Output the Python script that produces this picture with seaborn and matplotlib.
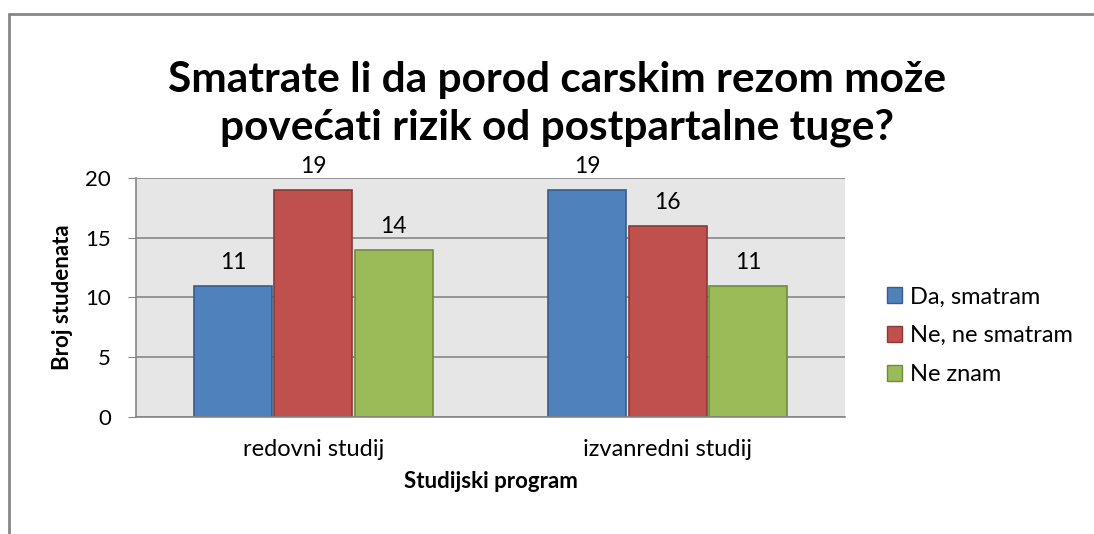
import numpy as np
import pandas as pd
import matplotlib
matplotlib.use("Agg")
import matplotlib.pyplot as plt
import seaborn as sns
from matplotlib.lines import Line2D

# Podaci
programi = ['redovni studij', 'izvanredni studij']
odgovori = ['Da, smatram', 'Ne, ne smatram', 'Ne znam']
da_smatram = [11, 19]
ne_smatram = [19, 16]
ne_znam = [14, 11]

boje = ['#4F81BD', '#C0504D', '#9BBB59']
rubovi = ['#385D8A', '#8C3836', '#71893F']

df = pd.DataFrame({
    'program': programi * 3,
    'odgovor': [odgovori[0]] * 2 + [odgovori[1]] * 2 + [odgovori[2]] * 2,
    'broj': da_smatram + ne_smatram + ne_znam,
})

sns.set_style('white')
plt.rcParams['font.family'] = ['Lato', 'DejaVu Sans']
plt.rcParams['text.color'] = 'black'
plt.rcParams['axes.labelcolor'] = 'black'
plt.rcParams['xtick.color'] = 'black'
plt.rcParams['ytick.color'] = 'black'

fig = plt.figure(figsize=(10.94, 5.34), dpi=100)
ax = fig.add_axes([0.1243, 0.2191, 0.6481, 0.4476])
ax.set_facecolor('#E6E6E6')

sns.barplot(data=df, x='program', y='broj', hue='odgovor', order=programi,
            hue_order=odgovori, palette=boje, width=0.68, gap=0.03,
            saturation=1, ax=ax)

for cont, rub in zip(ax.containers, rubovi):
    for bar in cont:
        bar.set_edgecolor(rub)
        bar.set_linewidth(1.2)
    ax.bar_label(cont, padding=9, fontsize=16.5)

ax.set_ylim(0, 20)
ax.set_yticks([0, 5, 10, 15, 20])
ax.grid(axis='y', color='#878787', linewidth=1.2)
ax.set_axisbelow(True)
for s in ['top', 'right']:
    ax.spines[s].set_visible(False)
ax.spines['left'].set_color('#878787')
ax.spines['bottom'].set_color('#878787')
ax.spines['left'].set_linewidth(1.2)
ax.spines['bottom'].set_linewidth(1.2)
ax.tick_params(axis='y', length=6, color='#878787', labelsize=16, pad=12, left=True)
ax.tick_params(axis='x', length=0, labelsize=17, pad=16)

ax.set_xlabel('Studijski program', fontsize=16, fontweight='bold', labelpad=8)
ax.set_ylabel('Broj studenata', fontsize=16, fontweight='bold', labelpad=9)

fig.text(0.509, 0.805, 'Smatrate li da porod carskim rezom može\npovećati rizik od postpartalne tuge?',
         ha='center', va='center', fontsize=30.5, fontweight='bold', linespacing=1.33)

ax.legend(loc='center left', bbox_to_anchor=(1.029, 0.34), frameon=False,
          fontsize=17, handlelength=0.65, handleheight=0.65, handletextpad=0.35,
          labelspacing=0.75)
for h, rub in zip(ax.get_legend().legend_handles, rubovi):
    h.set_edgecolor(rub)

# okvir grafikona
fig.add_artist(Line2D([9 / 1094, 1], [1 - 14 / 534, 1 - 14 / 534], color='#878787', lw=2))
fig.add_artist(Line2D([9 / 1094, 9 / 1094], [0, 1 - 14 / 534], color='#878787', lw=2))

fig.savefig('out.png', dpi=100)
